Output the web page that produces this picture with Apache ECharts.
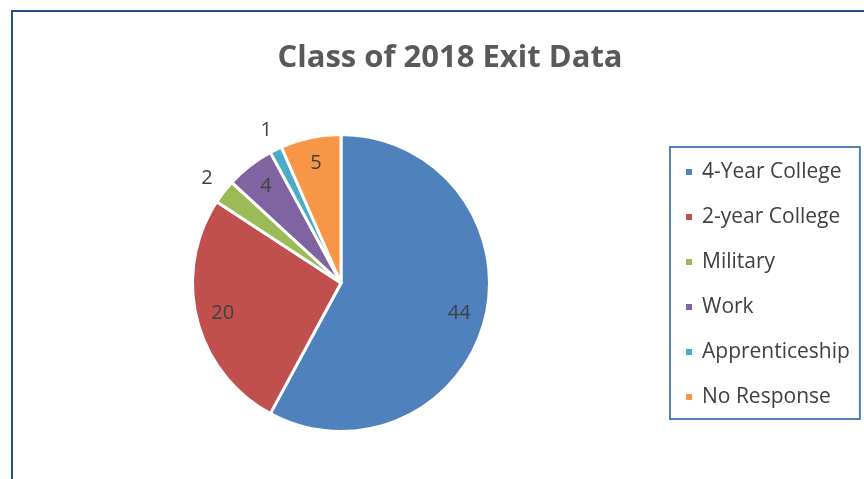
<!DOCTYPE html>
<html>
<head>
<meta charset="utf-8">
<title>Class of 2018 Exit Data</title>
<script src="https://cdn.jsdelivr.net/npm/echarts@6/dist/echarts.min.js"></script>
<style>
  html, body { margin: 0; padding: 0; background: #fff; }
  #main { width: 864px; height: 479px; }
</style>
</head>
<body>
<div id="main"></div>
<script>
// data
var categories = ['4-Year College', '2-year College', 'Military', 'Work', 'Apprenticeship', 'No Response'];
var counts = [44, 20, 2, 4, 1, 5];
var colors = ['#4F81BD', '#C0504D', '#9BBB59', '#8064A2', '#4BACC6', '#F79646'];
// which values are labelled inside the slice, which outside
var insideLabel = [true, true, false, true, false, true];

var font = '"Open Sans", Lato, sans-serif';
var center = [341, 283];

function pieData(showFn) {
  var out = [];
  for (var i = 0; i < categories.length; i++) {
    out.push({
      name: categories[i],
      value: counts[i],
      label: { show: showFn(i) }
    });
  }
  return out;
}

var labelStyle = {
  position: 'inside',
  formatter: '{c}',
  color: '#404040',
  fontSize: 20,
  fontFamily: font
};

var myChart = echarts.init(document.getElementById('main'));
var option = {
  animation: false,
  color: colors,
  title: {
    text: 'Class of 2018 Exit Data',
    left: 445,
    top: 38,
    textAlign: 'center',
    textStyle: { color: '#595959', fontSize: 31, fontWeight: 'bold', fontFamily: font }
  },
  graphic: [{
    type: 'rect',
    shape: { x: 12, y: 11, width: 900, height: 500 },
    style: { fill: 'none', stroke: '#1F4E89', lineWidth: 2 },
    silent: true
  }],
  legend: {
    orient: 'vertical',
    left: 670,
    top: 147,
    data: categories,
    icon: 'rect',
    itemWidth: 8,
    itemHeight: 8,
    itemGap: 23,
    padding: [14, 10, 11, 14],
    borderColor: '#4F81BD',
    borderWidth: 2,
    textStyle: { color: '#404040', fontSize: 21, lineHeight: 22, fontFamily: font, padding: [0, 0, 0, 4] }
  },
  series: [
    {
      // the visible slices
      type: 'pie',
      center: center,
      radius: 148.5,
      startAngle: 90,
      clockwise: true,
      silent: true,
      itemStyle: { borderColor: '#fff', borderWidth: 3 },
      label: { show: false },
      labelLine: { show: false },
      data: pieData(function () { return false; })
    },
    {
      // transparent helper: value labels sitting inside the slices
      type: 'pie',
      center: center,
      radius: [100, 138],
      startAngle: 90,
      silent: true,
      legendHoverLink: false,
      itemStyle: { color: 'rgba(0,0,0,0)' },
      label: labelStyle,
      labelLine: { show: false },
      data: pieData(function (i) { return insideLabel[i]; })
    },
    {
      // transparent helper: value labels outside the small slices
      type: 'pie',
      center: center,
      radius: [150, 184],
      startAngle: 90,
      silent: true,
      legendHoverLink: false,
      itemStyle: { color: 'rgba(0,0,0,0)' },
      label: labelStyle,
      labelLine: { show: false },
      data: pieData(function (i) { return !insideLabel[i]; })
    }
  ]
};
myChart.setOption(option);
</script>
</body>
</html>
